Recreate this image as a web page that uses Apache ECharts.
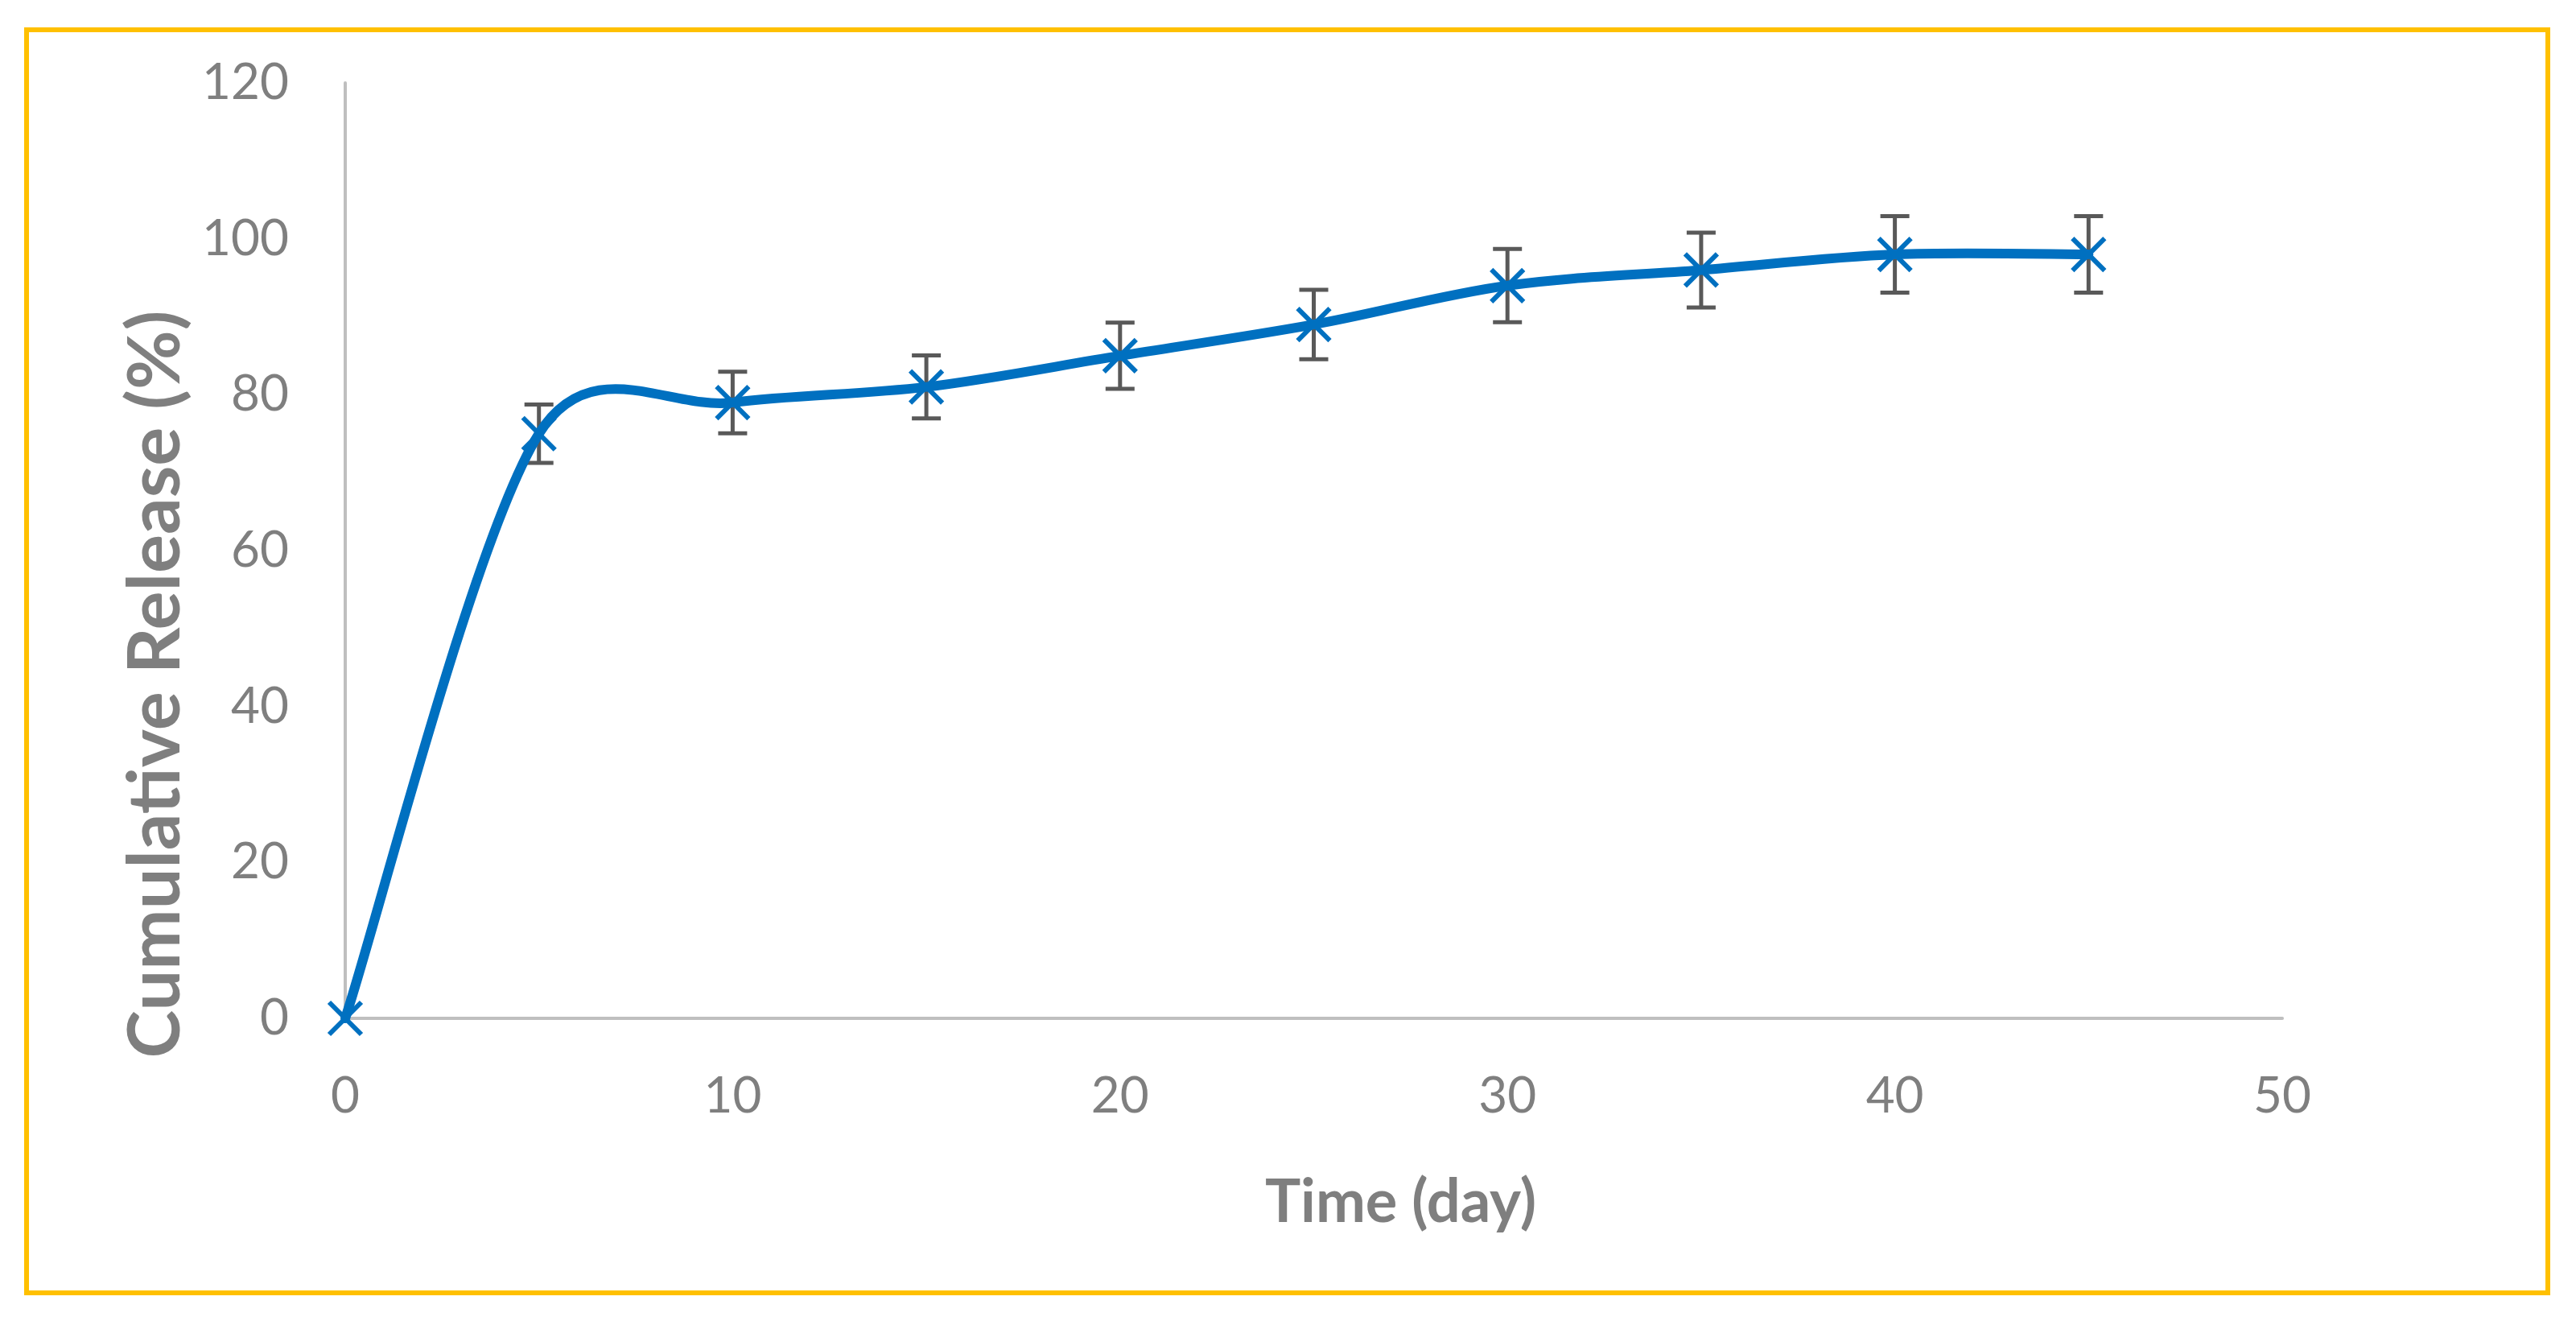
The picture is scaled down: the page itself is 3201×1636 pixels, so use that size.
<!DOCTYPE html>
<html>
<head>
<meta charset="utf-8">
<script src="https://cdn.jsdelivr.net/npm/echarts@6/dist/echarts.min.js"></script>
<style>
html,body{margin:0;padding:0;background:#fff;}
#chart{width:3201px;height:1636px;}
</style>
</head>
<body>
<div id="chart"></div>
<script>
// Data
const days = [0, 5, 10, 15, 20, 25, 30, 35, 40, 45];
const release = [0, 75, 79, 81, 85, 89, 94, 96, 98, 98];
const errors = [0, 3.75, 3.95, 4.05, 4.25, 4.45, 4.7, 4.8, 4.9, 4.9];
const xTicks = [0, 10, 20, 30, 40, 50];
const yTicks = [0, 20, 40, 60, 80, 100, 120];
const xTitle = 'Time (day)';
const yTitle = 'Cumulative Release (%)';

const FONT = 'Lato, "Open Sans", sans-serif';
const GREY = '#7F7F7F';
const BLUE = '#0070C0';

const lineData = days.map((d, i) => [d, release[i]]);
const errData = days.map((d, i) => [d, release[i] - errors[i], release[i] + errors[i]]);

// Smoothed (spreadsheet-style) curve through the data points, positioned via the axes
function arm(from, a, b, segLen) {
  let vx = (b[0] - a[0]) / 6, vy = (b[1] - a[1]) / 6;
  const len = Math.hypot(vx, vy);
  const maxLen = segLen * 0.5;
  if (len > maxLen && len > 0) { vx *= maxLen / len; vy *= maxLen / len; }
  return [vx, vy];
}
function renderCurve(params, api) {
  if (params.dataIndex !== 0) return null;
  const pts = lineData.map(p => api.coord(p));
  const n = pts.length;
  let d = 'M' + pts[0][0] + ',' + pts[0][1];
  for (let i = 0; i < n - 1; i++) {
    const p0 = pts[Math.max(i - 1, 0)];
    const p1 = pts[i];
    const p2 = pts[i + 1];
    const p3 = pts[Math.min(i + 2, n - 1)];
    const seg = Math.hypot(p2[0] - p1[0], p2[1] - p1[1]);
    const a1 = arm(p1, p0, p2, seg);
    const a2 = arm(p2, p1, p3, seg);
    const c1x = p1[0] + a1[0], c1y = p1[1] + a1[1];
    const c2x = p2[0] - a2[0], c2y = p2[1] - a2[1];
    d += ' C' + c1x + ',' + c1y + ' ' + c2x + ',' + c2y + ' ' + p2[0] + ',' + p2[1];
  }
  return {
    type: 'path',
    shape: {pathData: d},
    style: {stroke: BLUE, lineWidth: 12, fill: 'none', lineJoin: 'round', lineCap: 'round'}
  };
}

const chart = echarts.init(document.getElementById('chart'), null, {renderer: 'canvas'});
chart.setOption({
  backgroundColor: '#fff',
  animation: false,
  graphic: [{
    type: 'rect',
    shape: {x: 33, y: 37, width: 3133, height: 1569},
    style: {fill: 'none', stroke: '#FFC000', lineWidth: 6},
    silent: true
  }],
  grid: {left: 429, right: 365, top: 103, bottom: 371, containLabel: false},
  xAxis: {
    type: 'value',
    min: xTicks[0], max: xTicks[xTicks.length - 1], interval: 10,
    axisLine: {show: true, lineStyle: {color: '#BFBFBF', width: 4}},
    axisTick: {show: false},
    splitLine: {show: false},
    axisLabel: {color: GREY, fontFamily: FONT, fontSize: 62, margin: 66},
    name: xTitle,
    nameLocation: 'middle',
    nameGap: 192,
    nameTextStyle: {color: GREY, fontFamily: FONT, fontSize: 74, fontWeight: 'bold', padding: [0, 0, 0, 216]}
  },
  yAxis: {
    type: 'value',
    min: yTicks[0], max: yTicks[yTicks.length - 1], interval: 20,
    axisLine: {show: true, lineStyle: {color: '#BFBFBF', width: 4}},
    axisTick: {show: false},
    splitLine: {show: false},
    axisLabel: {color: GREY, fontFamily: FONT, fontSize: 62, margin: 70},
    name: yTitle,
    nameLocation: 'middle',
    nameGap: 190,
    nameTextStyle: {color: GREY, fontFamily: FONT, fontSize: 90, fontWeight: 'bold', padding: [0, 332, 0, 0]}
  },
  series: [
    {
      type: 'custom',
      z: 2,
      data: errData,
      renderItem: function (params, api) {
        const x = api.value(0);
        const lo = api.coord([x, api.value(1)]);
        const hi = api.coord([x, api.value(2)]);
        if (Math.abs(hi[1] - lo[1]) < 1) return null;
        const hw = 18;
        const st = {stroke: '#595959', lineWidth: 5, fill: 'none'};
        return {
          type: 'group',
          children: [
            {type: 'line', shape: {x1: lo[0], y1: lo[1], x2: hi[0], y2: hi[1]}, style: st},
            {type: 'line', shape: {x1: lo[0] - hw, y1: lo[1], x2: lo[0] + hw, y2: lo[1]}, style: st},
            {type: 'line', shape: {x1: hi[0] - hw, y1: hi[1], x2: hi[0] + hw, y2: hi[1]}, style: st}
          ]
        };
      }
    },
    {
      type: 'custom',
      z: 3,
      data: lineData,
      renderItem: renderCurve
    },
    {
      type: 'scatter',
      z: 4,
      data: lineData,
      symbol: 'path://M0,0L10,10M10,0L0,10',
      symbolSize: 40,
      itemStyle: {color: 'rgba(0,0,0,0)', borderColor: BLUE, borderWidth: 6, opacity: 1}
    }
  ]
});
</script>
</body>
</html>
